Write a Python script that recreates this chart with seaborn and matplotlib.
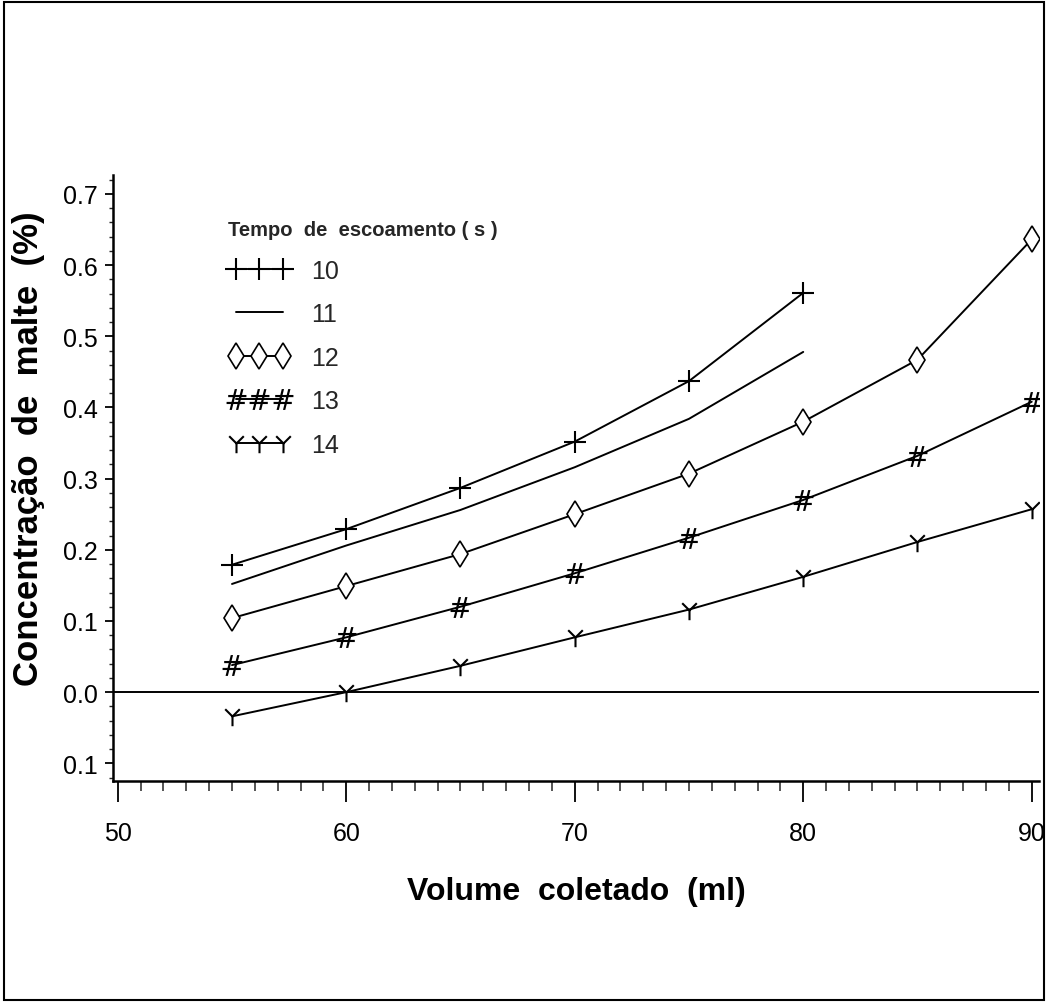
import matplotlib
matplotlib.use("Agg")
import matplotlib.pyplot as plt
import seaborn as sns
import pandas as pd
from matplotlib.patches import Rectangle
from matplotlib.path import Path
from matplotlib.ticker import MultipleLocator, FixedLocator, FixedFormatter

# volume collected (ml) and malt concentration (%) per outflow time (s)
volume = [55, 60, 65, 70, 75, 80, 85, 90]
conc_10 = [0.179, 0.229, 0.287, 0.352, 0.437, 0.561]
conc_11 = [0.152, 0.206, 0.256, 0.316, 0.384, 0.478]
conc_12 = [0.104, 0.149, 0.194, 0.250, 0.307, 0.380, 0.467, 0.636]
conc_13 = [0.038, 0.077, 0.120, 0.167, 0.217, 0.270, 0.332, 0.408]
conc_14 = [-0.034, 0.000, 0.037, 0.077, 0.116, 0.162, 0.211, 0.257]
series_names = ["10", "11", "12", "13", "14"]

xtick_vals = [50, 60, 70, 80, 90]
ytick_vals = [-0.1, 0.0, 0.1, 0.2, 0.3, 0.4, 0.5, 0.6, 0.7]
ytick_labels = ["0.1", "0.0", "0.1", "0.2", "0.3", "0.4", "0.5", "0.6", "0.7"]

frames = []
for name, vals in zip(series_names, [conc_10, conc_11, conc_12, conc_13, conc_14]):
    frames.append(pd.DataFrame({"volume": volume[:len(vals)], "conc": vals, "tempo": name}))
df = pd.concat(frames, ignore_index=True)

sns.set_style("ticks")
plt.rcParams["font.family"] = ["Liberation Sans", "DejaVu Sans"]

# open "Y" symbol like the plotter's
y_mark = Path([(0, 0), (0, -1), (0, 0), (-0.75, 0.75), (0, 0), (0.75, 0.75)],
              [Path.MOVETO, Path.LINETO, Path.MOVETO, Path.LINETO, Path.MOVETO, Path.LINETO])

fig = plt.figure(figsize=(10.48, 10.04), dpi=100)
ax = fig.add_axes([0.108, 0.221, 0.883, 0.604])

styles = {
    "10": dict(marker="+", markersize=16, markeredgewidth=1.5),
    "11": dict(marker=None),
    "12": dict(marker="d", markersize=13, markerfacecolor="white", markeredgewidth=1.2),
    "13": dict(marker="$\\#$", markersize=15, markeredgewidth=0),
    "14": dict(marker=y_mark, markersize=14, markerfacecolor="none", markeredgewidth=1.5),
}

for name in series_names:
    sub = df[df["tempo"] == name]
    sns.lineplot(data=sub, x="volume", y="conc", ax=ax, color="black",
                 markeredgecolor="black", linewidth=1.4, label=name, **styles[name])

handles = list(ax.lines[:5])
ax.axhline(0, color="black", linewidth=1.4)

ax.set_xlim(49.8, 90.3)
ax.set_ylim(-0.125, 0.727)
sns.despine(ax=ax)
for sp in ["left", "bottom"]:
    ax.spines[sp].set_linewidth(1.8)
    ax.spines[sp].set_color("black")

ax.xaxis.set_major_locator(FixedLocator(xtick_vals))
ax.xaxis.set_minor_locator(MultipleLocator(1))
ax.yaxis.set_major_locator(FixedLocator(ytick_vals))
ax.yaxis.set_major_formatter(FixedFormatter(ytick_labels))
ax.yaxis.set_minor_locator(MultipleLocator(0.02))
ax.tick_params(axis="both", colors="black")
ax.tick_params(axis="x", which="major", length=15, width=1.3, pad=14, labelsize=18)
ax.tick_params(axis="x", which="minor", length=7, width=1.1)
ax.tick_params(axis="y", which="major", length=6, width=1.3, pad=5, labelsize=18)
ax.tick_params(axis="y", which="minor", length=3, width=1.0)

ax.set_xlabel("Volume  coletado  (ml)", fontsize=23, fontweight="bold", labelpad=22,
              color="black")
ax.set_ylabel("Concentração  de  malte  (%)", fontsize=25, fontweight="bold",
              color="black")
ax.yaxis.set_label_coords(-0.074, 0.55)

leg = ax.legend(handles, series_names, loc="upper left", bbox_to_anchor=(0.1, 0.962),
                frameon=False, numpoints=3, handlelength=2.5, handletextpad=0.8,
                labelspacing=0.78, title="Tempo  de  escoamento ( s )",
                prop={"size": 18},
                title_fontproperties={"size": 14.5, "weight": "bold"})
leg._legend_box.align = "left"

fig.add_artist(Rectangle((0.004, 0.003), 0.992, 0.994, transform=fig.transFigure,
                         fill=False, linewidth=1.5, edgecolor="black"))

fig.savefig("out.png", dpi=100)
